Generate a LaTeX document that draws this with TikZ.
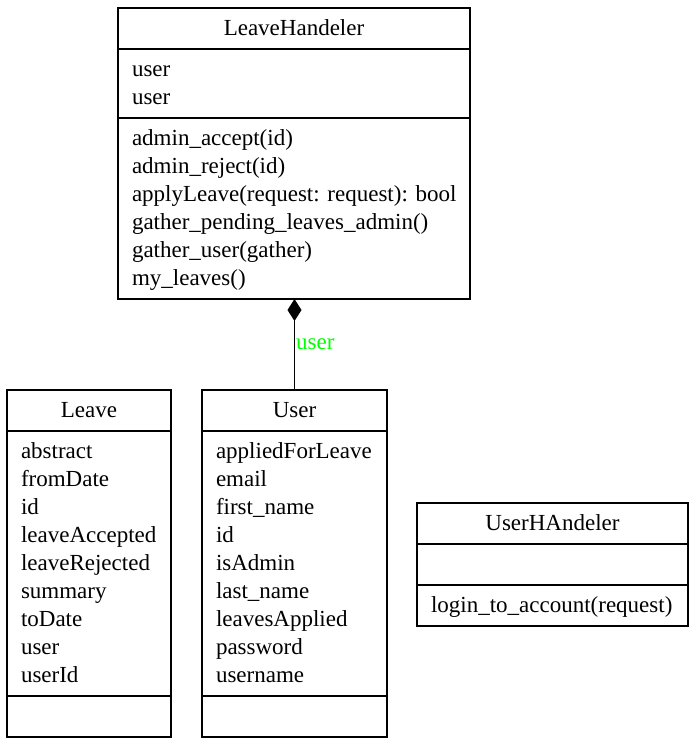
\documentclass[tikz,border=0pt]{standalone}
\usepackage{fontspec}
\setmainfont{Liberation Serif}
\usetikzlibrary{arrows.meta,positioning}
\definecolor{labelgreen}{HTML}{00FF00}
\hyphenpenalty=10000
\exhyphenpenalty=10000
\newcommand{\topspacer}{\rule{0pt}{21pt}}
\newcommand{\botspacer}{\rule[-7pt]{0pt}{7pt}}

\begin{document}
\begin{tikzpicture}[
    x=1pt, y=1pt,
    line width=1.2pt,
    classbox/.style={draw, rectangle, outer sep=0pt, inner xsep=14pt, inner ysep=6.5pt,
        font=\fontsize{23}{28}\selectfont,
        execute at begin node=\topspacer, execute at end node=\botspacer},
    classhead/.style={classbox, align=center, anchor=north west},
    compart/.style={classbox, align=left, below=0pt of #1},
    rellabel/.style={right, inner sep=1pt, text=labelgreen, font=\fontsize{23}{28}\selectfont}]
\useasboundingbox (0,0) rectangle (695,-745);

% LeaveHandeler
\node[classhead, text width=324pt] (lh) at (118,-8) {LeaveHandeler};
\node[compart=lh, text width=324pt] (lh-attr) {user\\user};
\node[compart=lh-attr, text width=324pt] (lh-meth) {admin\_accept(id)\\admin\_reject(id)\\applyLeave(request:~request):~bool\\gather\_pending\_leaves\_admin()\\gather\_user(gather)\\my\_leaves()};

% Leave
\node[classhead, text width=136pt] (lv) at (7,-390) {Leave};
\node[compart=lv, text width=136pt] (lv-attr) {abstract\\fromDate\\id\\leaveAccepted\\leaveRejected\\summary\\toDate\\user\\userId};
\node[compart=lv-attr, text width=136pt] (lv-meth) {};

% User
\node[classhead, text width=157pt] (us) at (202,-390) {User};
\node[compart=us, text width=157pt] (us-attr) {appliedForLeave\\email\\first\_name\\id\\isAdmin\\last\_name\\leavesApplied\\password\\username};
\node[compart=us-attr, text width=157pt] (us-meth) {};

% UserHAndeler
\node[classhead, text width=243pt] (uh) at (417,-503) {UserHAndeler};
\node[compart=uh, text width=243pt] (uh-attr) {};
\node[compart=uh-attr, text width=243pt] (uh-meth) {login\_to\_account(request)};

\draw[-{Diamond[length=22pt,width=14pt]}] (us.north) -- node[rellabel] (rel) {user} (us.north |- lh-meth.south);

\end{tikzpicture}
\end{document}
